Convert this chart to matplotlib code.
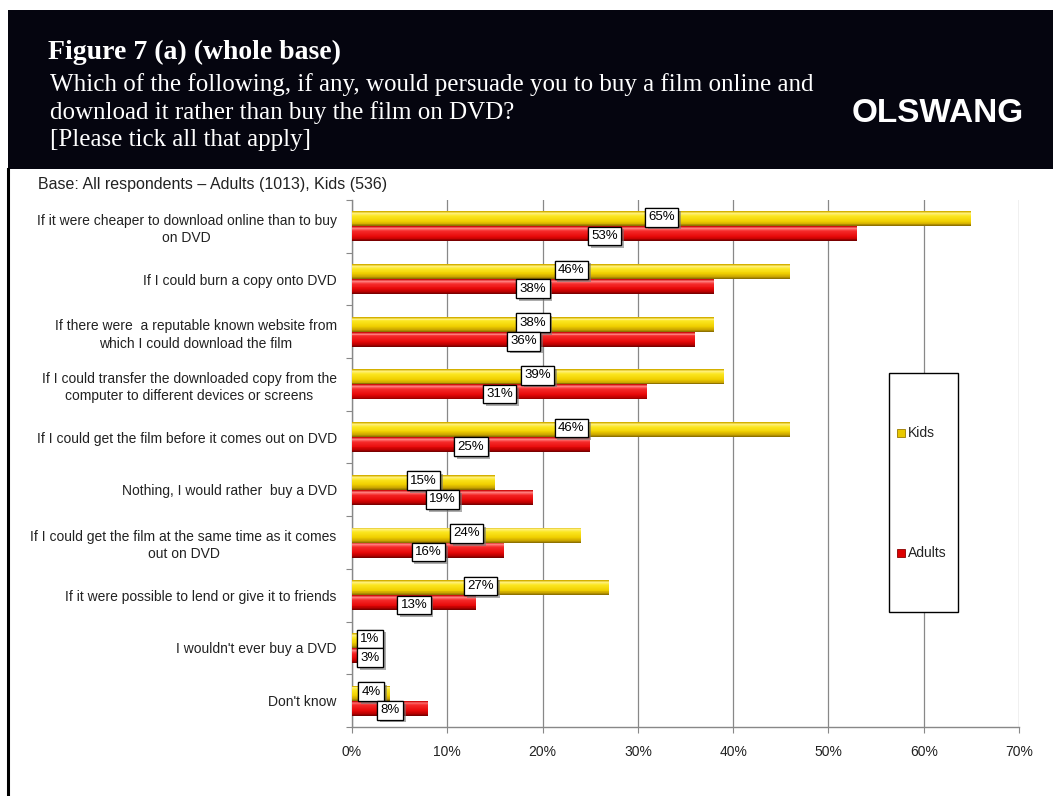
import numpy as np
import matplotlib.pyplot as plt
from matplotlib.patches import Rectangle
from matplotlib import patheffects as pe
from matplotlib.colors import LinearSegmentedColormap

# survey answers (top to bottom as in the chart)
categories = [
    "If it were cheaper to download online than to buy\non DVD",
    "If I could burn a copy onto DVD",
    "If there were  a reputable known website from\nwhich I could download the film",
    "If I could transfer the downloaded copy from the\ncomputer to different devices or screens",
    "If I could get the film before it comes out on DVD",
    "Nothing, I would rather  buy a DVD",
    "If I could get the film at the same time as it comes\nout on DVD",
    "If it were possible to lend or give it to friends",
    "I wouldn't ever buy a DVD",
    "Don't know",
]
kids = [65, 46, 38, 39, 46, 15, 24, 27, 1, 4]
adults = [53, 38, 36, 31, 25, 19, 16, 13, 3, 8]
xticks = [0, 10, 20, 30, 40, 50, 60, 70]

title = "Figure 7 (a) (whole base)"
question = ("Which of the following, if any, would persuade you to buy a film online and\n"
            "download it rather than buy the film on DVD?\n"
            "[Please tick all that apply]")
base_note = "Base: All respondents \u2013 Adults (1013), Kids (536)"

W, H = 1053, 796
fig = plt.figure(figsize=(W / 100, H / 100), dpi=100)
fig.patch.set_facecolor("white")


def fx(px):
    return px / W


def fy(py):
    return 1 - py / H


# header band
fig.add_artist(Rectangle((fx(8), fy(169)), fx(W - 8), 159 / H, transform=fig.transFigure,
                         facecolor="#05050f", edgecolor="none", zorder=0))
# left border
fig.add_artist(plt.Line2D([fx(8), fx(8)], [0, fy(169)], transform=fig.transFigure,
                          color="black", lw=2.2))

serif = ["Liberation Serif", "DejaVu Serif"]
sans = ["Liberation Sans", "DejaVu Sans"]
fig.text(fx(48), fy(52), title, color="white", family=serif, fontsize=20,
         fontweight="bold", va="center", ha="left")
fig.text(fx(50), fy(112), question, color="white", family=serif, fontsize=18,
         va="center", ha="left", linespacing=1.3)
fig.text(fx(938), fy(113), "OLSWANG", color="white", family=sans, fontsize=24,
         fontweight="bold", va="center", ha="center")
fig.text(fx(38), fy(184), base_note, color="#222222", family=sans, fontsize=11.5,
         va="center", ha="left")

# chart area
ax = fig.add_axes([fx(352), fy(727), fx(1019 - 352), (727 - 200) / H])
n = len(categories)
y = np.arange(n)
bh = 0.285
k = 16

kid_cmap = LinearSegmentedColormap.from_list(
    "kid", [(0, "#d4b000"), (0.12, "#fff07a"), (0.3, "#fbe620"), (0.65, "#f0d000"),
            (0.88, "#c9a400"), (1, "#8f7200")])
adult_cmap = LinearSegmentedColormap.from_list(
    "adult", [(0, "#d01010"), (0.12, "#ff8080"), (0.3, "#f52a2a"), (0.65, "#e80a0a"),
              (0.88, "#b80000"), (1, "#7a0000")])


def cylinder(ax, ypos, vals, cmap):
    # stacked thin slices give the rounded 3D look of the original bars
    for i in range(k):
        # axis is inverted, so slice 0 sits at the top of the bar
        ax.barh(ypos - bh / 2 + (i + 0.5) * bh / k, vals, height=bh / k * 1.05, left=0,
                color=cmap(i / (k - 1)), edgecolor="none", zorder=3)


cylinder(ax, y - bh / 2, kids, kid_cmap)
cylinder(ax, y + bh / 2, adults, adult_cmap)

shadow = [pe.withSimplePatchShadow(offset=(2, -2), shadow_rgbFace="#777777", alpha=0.6)]
for yi, kv, av in zip(y, kids, adults):
    for val, yy in ((kv, yi - bh / 2 - 0.03), (av, yi + bh / 2 + 0.04)):
        t = ax.text(max(val / 2, 1.9), yy, f"{val}%", ha="center", va="center",
                    family=sans, fontsize=9.5, color="black", zorder=6,
                    bbox=dict(boxstyle="square,pad=0.25", fc="white", ec="black", lw=0.9))
        t.get_bbox_patch().set_path_effects(shadow + [pe.Normal()])

ax.set_xlim(0, 70)
ax.set_ylim(n - 0.5, -0.5)
ax.set_xticks(xticks)
ax.set_xticklabels([f"{v}%" for v in xticks], family=sans, fontsize=10, color="#222222")
ax.tick_params(axis="x", length=4, color="#888888", pad=9)
ax.set_yticks(np.arange(n + 1) - 0.5)
ax.set_yticklabels([])
ax.set_yticks(y, minor=True)
ax.set_yticklabels(categories, minor=True, family=sans, fontsize=10, color="#222222",
                   linespacing=1.3, ha="right", multialignment="center")
ax.tick_params(axis="y", which="major", length=4, color="#888888")
ax.tick_params(axis="y", which="minor", length=0, pad=11)
ax.grid(axis="x", color="#888888", lw=0.9, zorder=1)
for s in ("top", "right"):
    ax.spines[s].set_visible(False)
for s in ("left", "bottom"):
    ax.spines[s].set_color("#888888")
    ax.spines[s].set_linewidth(1)
ax.set_axisbelow(True)

# legend box (tall Excel-style legend)
fig.add_artist(Rectangle((fx(889), fy(612)), fx(69), 239 / H, transform=fig.transFigure,
                         facecolor="white", edgecolor="black", lw=1, zorder=5))
for label, c, ec, py in (("Kids", "#e8c800", "#9a7a00", 433), ("Adults", "#dd0000", "#880000", 553)):
    fig.add_artist(Rectangle((fx(897), fy(py + 4)), fx(8), 8 / H, transform=fig.transFigure,
                             facecolor=c, edgecolor=ec, lw=0.6, zorder=6))
    fig.text(fx(908), fy(py), label, family=sans, fontsize=10, color="#222222",
             va="center", ha="left", zorder=6)

fig.savefig("out.png", dpi=100)
